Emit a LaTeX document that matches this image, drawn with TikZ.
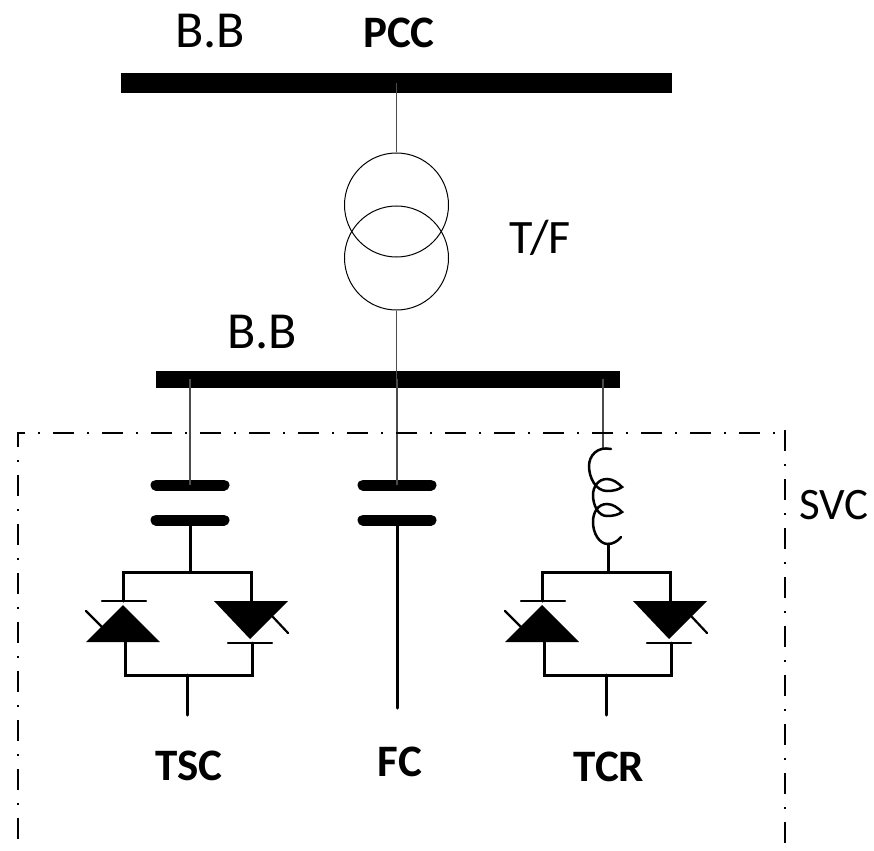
\documentclass[tikz,border=0pt]{standalone}
\usepackage{fontspec}
\setmainfont{Carlito}
\tikzstyle{busbar} = [rectangle, fill=black, inner sep=0pt, minimum width=0pt]
\tikzstyle{winding} = [circle, draw=black, line width=1pt, minimum size=104pt, inner sep=0pt]
\tikzstyle{plate} = [line width=11pt, line cap=round]
\tikzstyle{feeder} = [line width=1.2pt, draw=black!70]
\tikzstyle{wire} = [line width=3pt, line cap=round, line join=miter]
\tikzstyle{gate} = [line width=2.2pt, line cap=round]
\tikzstyle{frame} = [line width=2.5pt, dash pattern=on 21pt off 13pt on 2pt off 13pt]
\tikzstyle{tag} = [font=\fontsize{45}{45}\selectfont\bfseries, inner sep=0pt]
\tikzstyle{label} = [font=\fontsize{52}{52}\selectfont, inner sep=0pt]

% capacitor plates, x = centre of the plates
\newcommand{\capplates}[2]{
 \coordinate (#1_top) at (#2,485);
 \coordinate (#1_bot) at (#2,520);
 \draw [plate] (#2-34,485) -- (#2+34,485);
 \draw [plate] (#2-34,520) -- (#2+34,520);
}
% thyristor pair, x = x of the left thyristor
\newcommand{\thyristors}[3]{
 \coordinate (#1_in) at (#3,572);
 \coordinate (#1_out) at (#2+64,675);
 \draw [wire] (#2,601) -- (#2,572) -- (#2+128,572) -- (#2+128,601);
 \draw [wire] (#2+2,642) -- (#2+2,675) -- (#2+129,675) -- (#2+129,643);
 \fill (#2,605) -- (#2+37,642) -- (#2-37,642) -- cycle;
 \fill (#2+91,601) -- (#2+165,601) -- (#2+127,639) -- cycle;
 \draw [gate] (#2-21,601) -- (#2+23,601);
 \draw [gate] (#2-37,611) -- (#2-21,627);
 \draw [gate] (#2+105,643) -- (#2+149,643);
 \draw [gate] (#2+150,617) -- (#2+165,633);
}

\begin{document}
\begin{tikzpicture}[x=1pt, y=-1pt]
 \useasboundingbox (0,0) rectangle (874,850);

 \node (bb_pcc) [busbar, minimum width=551pt, minimum height=20pt] at (396.5,83) {};
 \node (bb_svc) [busbar, minimum width=464pt, minimum height=17pt] at (388,379.5) {};
 \node (tf_top) [winding] at (396.5,205) {};
 \node (tf_bot) [winding] at (396.5,258) {};

 \draw [feeder] (396.5,83) -- (tf_top.north);
 \draw [feeder] (tf_bot.south) -- (396.5,379);

 % the three branches
 \capplates{tsc}{190}
 \capplates{fc}{397}
 \thyristors{tsc}{123}{190}
 \thyristors{tcr}{542}{608}

 \coordinate (tsc_end) at (187,715);
 \coordinate (fc_end) at (397,708);
 \coordinate (tcr_end) at (606,715);
 \coordinate (coil_top) at (603,449);
 \coordinate (coil_bot) at (608,544);

 \draw [feeder] (190,379) -- (tsc_top);
 \draw [feeder] (397,379) -- (fc_top);
 \draw [feeder] (603,379) -- (coil_top);

 \draw [wire] (tsc_bot) -- (tsc_in);
 \draw [wire] (fc_bot) -- (fc_end);
 \draw [wire] (coil_bot) -- (tcr_in);
 \draw [wire] (tsc_out) -- (tsc_end);
 \draw [wire] (tcr_out) -- (tcr_end);

 % reactor
 \draw [gate, line width=2.5pt] (611,449) .. controls (597,446) and (589,456) .. (589,466)
  .. controls (589,478) and (596,491) .. (607,491)
  .. controls (613,491) and (618,490) .. (622,487)
  .. controls (618,483) and (613,479) .. (607,479)
  .. controls (598,479) and (593,487) .. (593,495)
  .. controls (593,505) and (598,516) .. (607,516)
  .. controls (613,516) and (618,515) .. (622,512)
  .. controls (618,508) and (613,504) .. (607,504)
  .. controls (598,504) and (593,512) .. (593,522)
  .. controls (593,533) and (599,544) .. (608,544)
  .. controls (613,544) and (618,541) .. (621,537);

 % SVC boundary
 \coordinate (svc_a) at (18,839);
 \coordinate (svc_b) at (18,433);
 \coordinate (svc_c) at (785,433);
 \coordinate (svc_d) at (785,430);
 \coordinate (svc_e) at (785,843);
 \draw [frame] (svc_a) -- (svc_b) -- (svc_c);
 \draw [frame] (svc_d) -- (svc_e);

 \node (lbl_bb1) [label] at (210,31) {B.B};
 \node (lbl_pcc) [tag] at (399,33) {PCC};
 \node (lbl_tf) [label, font=\fontsize{48}{48}\selectfont] at (540,238) {T/F};
 \node (lbl_bb2) [label] at (262,332) {B.B};
 \node (lbl_svc) [label, font=\fontsize{45}{45}\selectfont] at (834,505) {SVC};
 \node (lbl_tsc) [tag] at (189,766) {TSC};
 \node (lbl_fc) [tag] at (400,762) {FC};
 \node (lbl_tcr) [tag] at (609,767) {TCR};
\end{tikzpicture}
\end{document}
